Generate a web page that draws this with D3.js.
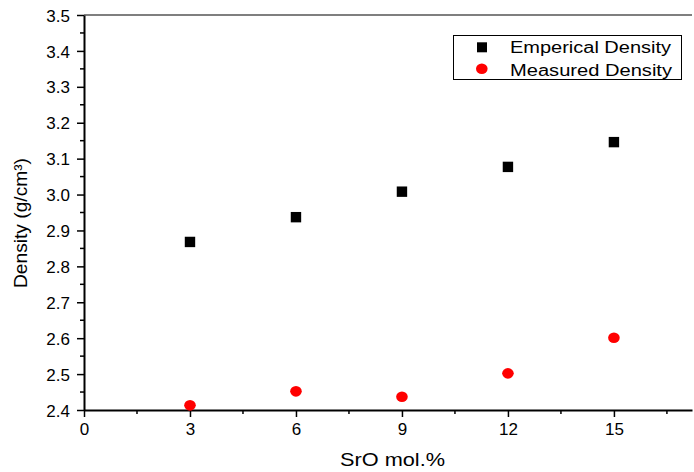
<!DOCTYPE html>
<html><head><meta charset="utf-8">
<script src="https://cdn.jsdelivr.net/npm/d3@7"></script>
<style>body{margin:0;background:#fff;} svg{display:block;font-family:"Liberation Sans",Arial,sans-serif;}</style>
</head><body>
<svg id="c" width="694" height="472"></svg>
<script>
const xValues = [3, 6, 9, 12, 15];
const empericalDensity = [2.868, 2.937, 3.008, 3.077, 3.146];
const measuredDensity = [2.413, 2.452, 2.437, 2.502, 2.601];
const xTicks = [0, 3, 6, 9, 12, 15];
const yTicks = [2.4, 2.5, 2.6, 2.7, 2.8, 2.9, 3.0, 3.1, 3.2, 3.3, 3.4, 3.5];
const seriesNames = ["Emperical Density", "Measured Density"];

const svg = d3.select("#c");
const L = 84, R = 692, T = 15, B = 410;
const x = d3.scaleLinear().domain([0, 17.21]).range([L, R]);
const y = d3.scaleLinear().domain([2.4, 3.5]).range([B, T]);
const FF = "Liberation Sans, Arial, sans-serif";

const g = svg.append("g");
const xMinor = d3.range(1.5, 17.2, 3);
const yMinor = d3.range(2.45, 3.5, 0.1);
g.selectAll(".xm").data(xMinor).enter().append("line")
  .attr("x1", d => x(d)).attr("x2", d => x(d)).attr("y1", B).attr("y2", B + 4)
  .attr("stroke", "#000").attr("stroke-width", 1.5);
g.selectAll(".ym").data(yMinor).enter().append("line")
  .attr("y1", d => y(d)).attr("y2", d => y(d)).attr("x1", L).attr("x2", L - 4)
  .attr("stroke", "#000").attr("stroke-width", 1.5);

const xAxis = svg.append("g").attr("transform", `translate(0,${B})`)
  .call(d3.axisBottom(x).tickValues(xTicks).tickSize(7).tickPadding(6).tickSizeOuter(0).tickFormat(d3.format("d")));
const yAxis = svg.append("g").attr("transform", `translate(${L},0)`)
  .call(d3.axisLeft(y).tickValues(yTicks).tickSize(7).tickPadding(7).tickSizeOuter(0).tickFormat(d3.format(".1f")));
[xAxis, yAxis].forEach(a => {
  a.select(".domain").attr("stroke-width", 2);
  a.selectAll(".tick line").attr("stroke-width", 1.5);
  a.selectAll("text").attr("font-size", 17).attr("fill", "#000").attr("font-family", FF);
});
yAxis.selectAll("text").attr("dy", "0.36em");
svg.append("line").attr("x1", L).attr("x2", R).attr("y1", T).attr("y2", T).attr("stroke", "#000").attr("stroke-width", 1.2);

svg.selectAll(".emp").data(xValues).enter().append("rect")
  .attr("x", d => x(d) - 5.2).attr("y", (d, i) => y(empericalDensity[i]) - 5.2)
  .attr("width", 10.4).attr("height", 10.4).attr("fill", "#000");
svg.selectAll(".mea").data(xValues).enter().append("ellipse")
  .attr("cx", d => x(d)).attr("cy", (d, i) => y(measuredDensity[i]))
  .attr("rx", 5.8).attr("ry", 5.3).attr("fill", "#ff0000");

svg.append("text").attr("x", 392.5).attr("y", 466).attr("text-anchor", "middle")
  .attr("font-size", 18).attr("textLength", 105).attr("lengthAdjust", "spacingAndGlyphs").text("SrO mol.%");
svg.append("text").attr("transform", "translate(27,223) rotate(-90)").attr("text-anchor", "middle")
  .attr("font-size", 18).attr("textLength", 130).attr("lengthAdjust", "spacingAndGlyphs").text("Density (g/cm³)");

const lg = svg.append("g");
lg.append("rect").attr("x", 453.5).attr("y", 35.5).attr("width", 228).attr("height", 44)
  .attr("fill", "#fff").attr("stroke", "#000").attr("stroke-width", 1);
lg.append("rect").attr("x", 477).attr("y", 42.3).attr("width", 10).attr("height", 10).attr("fill", "#000");
lg.append("ellipse").attr("cx", 481.8).attr("cy", 68.7).attr("rx", 5.8).attr("ry", 5.3).attr("fill", "#ff0000");
lg.selectAll(".lt").data(seriesNames).enter().append("text")
  .attr("x", 510).attr("y", (d, i) => 53.3 + i * 22.4).attr("font-size", 16)
  .attr("textLength", (d, i) => i === 0 ? 161 : 162).attr("lengthAdjust", "spacingAndGlyphs").text(d => d);
</script>
</body></html>
